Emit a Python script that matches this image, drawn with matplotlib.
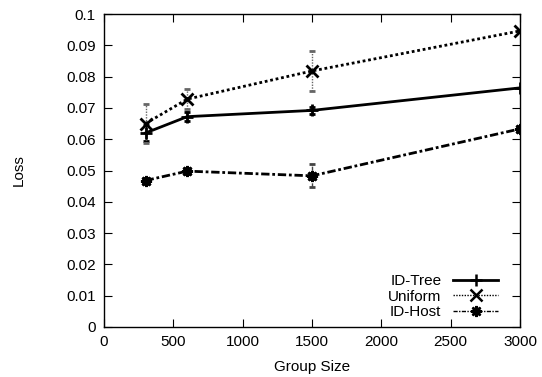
import matplotlib
matplotlib.use("Agg")
import matplotlib.pyplot as plt
from matplotlib.lines import Line2D

plt.rcParams['font.family'] = ['Liberation Sans', 'DejaVu Sans']

group_size = [300, 600, 1500, 3000]
id_tree = [0.0620, 0.0672, 0.0692, 0.0764]
id_tree_err = [0.0025, 0.0015, 0.0010, 0.0]
uniform = [0.0650, 0.0728, 0.0818, 0.0946]
uniform_err = [0.0062, 0.0032, 0.0065, 0.0]
id_host = [0.0468, 0.0498, 0.0483, 0.0633]
id_host_err = [0.0008, 0.0008, 0.0037, 0.0]

xticks = [0, 500, 1000, 1500, 2000, 2500, 3000]
yticks = [0, 0.01, 0.02, 0.03, 0.04, 0.05, 0.06, 0.07, 0.08, 0.09, 0.1]
ytick_labels = ['0', '0.01', '0.02', '0.03', '0.04', '0.05', '0.06', '0.07', '0.08', '0.09', '0.1']

fig = plt.figure(figsize=(5.42, 3.77), dpi=100)
ax = fig.add_axes([104/542, 50/377, 416/542, 313/377])

dotted = (0, (1, 1))
dashdot = (0, (3, 1, 1, 1))
series = [
    ("ID-Tree", id_tree, id_tree_err, '-', '+', '#000000', 2.0),
    ("Uniform", uniform, uniform_err, dotted, 'x', '#666666', 2.0),
    ("ID-Host", id_host, id_host_err, dashdot, (8, 2, 0), '#444444', 2.0),
]
for label, vals, errs, ls, mk, ecol, lw in series:
    c = ax.errorbar(group_size, vals, yerr=errs, color='black', linestyle=ls,
                    linewidth=lw, marker=mk, markersize=8, markeredgewidth=2,
                    ecolor=ecol, elinewidth=1.0, capsize=2.5, capthick=1.0,
                    label=label)
    for lc in c.lines[2]:
        lc.set_linestyle(ls)

ax.set_xlim(0, 3000)
ax.set_ylim(0, 0.1)
ax.set_xticks(xticks)
ax.set_yticks(yticks)
ax.set_yticklabels(ytick_labels)
ax.tick_params(direction='in', length=6, width=0.8, top=True, right=True,
               labelsize=11, pad=6, colors='black')
for s in ax.spines.values():
    s.set_linewidth(1.0)

ax.set_xlabel("Group Size", fontsize=11, labelpad=8)
ax.set_ylabel("Loss", fontsize=11, labelpad=29)

hs = []
for label, vals, errs, ls, mk, ecol, lw in series:
    hs.append(Line2D([], [], color='black', linestyle=ls,
                     linewidth=2.0 if ls == '-' else 1.0, marker=mk,
                     markersize=8, markeredgewidth=1.8))
leg = ax.legend(hs, [s[0] for s in series], loc='lower right', frameon=False,
                markerfirst=False, handlelength=2.9, fontsize=11,
                labelspacing=0.1, handletextpad=0.8, borderaxespad=0.1,
                bbox_to_anchor=(0.965, 0.0))
for t in leg.get_texts():
    t.set_ha('right')

fig.savefig("out.png", dpi=100)
